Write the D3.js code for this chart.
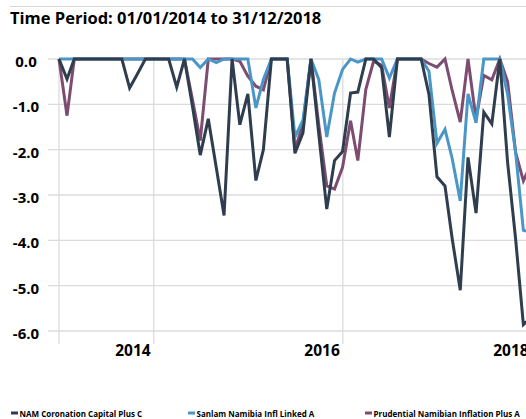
<!DOCTYPE html>
<html>
<head>
<meta charset="utf-8">
<script src="https://cdn.jsdelivr.net/npm/d3@7"></script>
<style>
  body { margin: 0; background: #fff; }
  svg { display: block; font-family: "Open Sans", "Noto Sans", sans-serif; font-weight: bold; }
</style>
</head>
<body>
<div id="chart"></div>
<script>
// Drawdown chart, monthly month-end values (first point is the 0 start)

const seriesNames = ["NAM Coronation Capital Plus C", "Sanlam Namibia Infl Linked A", "Prudential Namibian Inflation Plus A"];
const seriesColors = ["#2f3e4e", "#4a96c6", "#7c4d70"];

const namCoronation = [
  0, -0.44, 0, 0, 0, 0, 0, 0, 0, -0.64, -0.32, 0, 0,
  0, 0, -0.62, 0, -1.05, -2.12, -1.32, -2.4, -3.45, 0, -1.45, -0.77,
  -2.68, -2.0, 0, 0, 0, -2.08, -1.63, 0, -1.65, -3.31, -2.24, -2.04,
  -0.75, -0.73, 0, 0, -0.19, -1.72, 0, 0, 0, 0, -0.78, -2.6,
  -2.8, -3.97, -5.1, -2.17, -3.4, -1.17, -1.43, 0, -2.28, -3.97, -5.86, -5.7
];
const sanlamInfl = [
  0, 0, 0, 0, 0, 0, 0, 0, 0, 0, 0, 0, 0,
  0, 0, 0, 0, 0, -0.19, 0, -0.08, 0, 0, 0, 0,
  -1.08, -0.45, 0, 0, 0, -1.72, -1.35, 0, -0.45, -1.72, -0.75, -0.23,
  0, -0.07, 0, 0, 0, -0.42, 0, 0, 0, 0, -0.27, -1.86,
  -1.55, -2.2, -3.13, -0.77, -1.41, 0, 0, 0, -0.78, -2.06, -3.78, -3.82
];
const prudentialInfl = [
  0, -1.25, 0, 0, 0, 0, 0, 0, 0, 0, 0, 0, 0,
  0, 0, 0, 0, -0.9, -1.8, 0, 0, 0, 0, -0.05, -0.38,
  -0.6, -0.68, 0, 0, 0, -2.0, -1.43, 0, -1.45, -2.8, -2.87, -2.39,
  -1.36, -2.24, -0.67, -0.05, -0.14, -1.08, 0, 0, 0, 0, -0.1, -0.18,
  0, -0.7, -1.39, 0, -1.33, -0.36, -0.46, 0, -0.5, -2.06, -2.69, -2.3
];

const yTicks = [0, -1, -2, -3, -4, -5, -6];
const xTickDates = ["2015-01-01", "2017-01-01", "2019-01-01"];
const xTickLabels = ["2014", "2016", "2018"];
const title = "Time Period: 01/01/2014 to 31/12/2018";

// month-end dates, 31/12/2013 .. 31/12/2018
const dates = namCoronation.map((v, i) => d3.timeDay.offset(d3.timeMonth.offset(new Date(2014, 0, 1), i), -1));

const width = 526, height = 419;

const svg = d3.select("#chart").append("svg")
  .attr("width", width)
  .attr("height", height);

// top rule and title
svg.append("line")
  .attr("x1", 10).attr("x2", width)
  .attr("y1", 6.5).attr("y2", 6.5)
  .attr("stroke", "#d9d9d9")
  .attr("stroke-width", 1.2);

svg.append("text")
  .attr("x", 10)
  .attr("y", 24)
  .attr("font-size", "16.5px")
  .attr("fill", "#000")
  .text(title);

// scales
let x = d3.scaleTime()
  .domain([dates[0], dates[dates.length - 1]])
  .range([59, 531.4]);

let y = d3.scaleLinear()
  .domain([0, -6])
  .range([59, 331]);

// horizontal gridlines
svg.append("g")
  .selectAll("line")
  .data(yTicks)
  .join("line")
  .attr("x1", 48).attr("x2", width)
  .attr("y1", d => y(d)).attr("y2", d => y(d))
  .attr("stroke", "#dcdcdc")
  .attr("stroke-width", 1.3);

// vertical gridlines (plot start + year ends)
let xGrid = [dates[0]].concat(xTickDates.map(d => new Date(d + "T00:00:00")));
svg.append("g")
  .selectAll("line")
  .data(xGrid)
  .join("line")
  .attr("x1", d => x(d)).attr("x2", d => x(d))
  .attr("y1", 59).attr("y2", 344)
  .attr("stroke", "#dcdcdc")
  .attr("stroke-width", 1.3);

// y labels
svg.append("g")
  .selectAll("text")
  .data(yTicks)
  .join("text")
  .attr("x", 26)
  .attr("y", d => y(d) + 8)
  .attr("text-anchor", "middle")
  .attr("font-size", "15px")
  .text(d => d3.format(".1f")(d).replace("−", "-"));

// x labels, right aligned against the year-end gridline
svg.append("g")
  .selectAll("text")
  .data(xTickDates)
  .join("text")
  .attr("x", d => x(new Date(d + "T00:00:00")) - 3)
  .attr("y", 356)
  .attr("text-anchor", "end")
  .attr("font-size", "15.5px")
  .text((d, i) => xTickLabels[i]);

// lines, purple first so dark ends on top
let allSeries = [namCoronation, sanlamInfl, prudentialInfl];
let line = d3.line()
  .x((d, i) => x(dates[i]))
  .y(d => y(d));

for (let s of [2, 1, 0]) {
  svg.append("path")
    .datum(allSeries[s])
    .attr("fill", "none")
    .attr("stroke", seriesColors[s])
    .attr("stroke-width", 3)
    .attr("d", line);
}

// legend
const legendX = [11, 188, 365];
let legend = svg.append("g")
  .selectAll("g")
  .data(seriesNames)
  .join("g")
  .attr("transform", (d, i) => `translate(${legendX[i]},0)`);

legend.append("rect")
  .attr("x", 0).attr("y", 411.5)
  .attr("width", 7).attr("height", 3)
  .attr("fill", (d, i) => seriesColors[i]);

legend.append("text")
  .attr("x", 8.5)
  .attr("y", 416.5)
  .attr("font-size", "8px")
  .text(d => d);
</script>
</body>
</html>
